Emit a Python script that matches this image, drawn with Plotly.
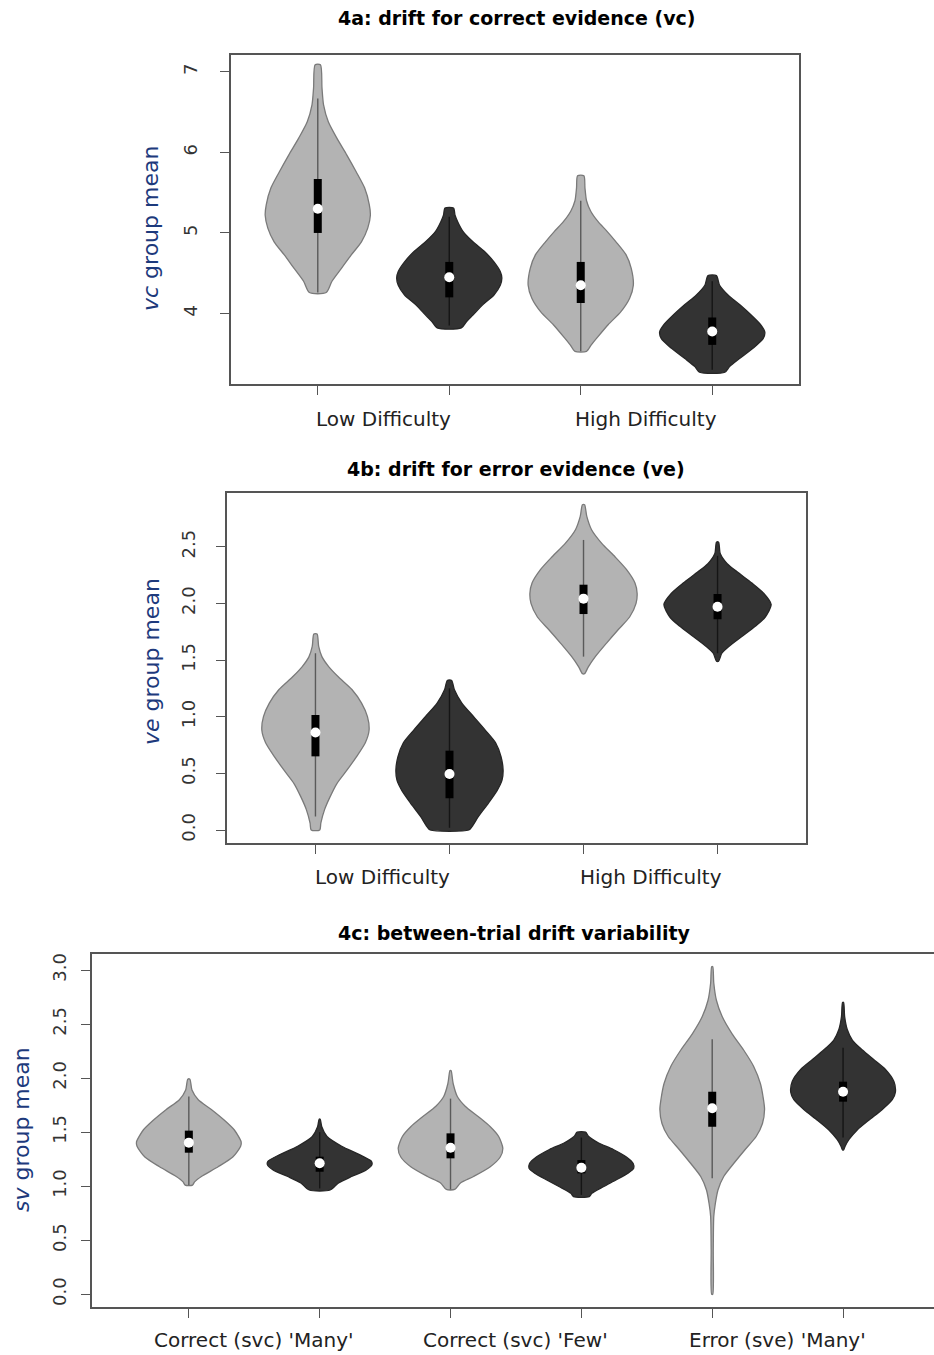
import plotly.graph_objects as go

W, H = 934, 1355

# ---------------- data ----------------
A_TITLE = "4a: drift for correct evidence (vc)"
B_TITLE = "4b: drift for error evidence (ve)"
C_TITLE = "4c: between-trial drift variability"
A_YLABEL = "<i>vc</i> group mean"
B_YLABEL = "<i>ve</i> group mean"
C_YLABEL = "<i>sv</i> group mean"
A_CATEGORIES = ["Low Difficulty", "High Difficulty"]
B_CATEGORIES = ["Low Difficulty", "High Difficulty"]
C_CATEGORIES = ["Correct (svc) 'Many'", "Correct (svc) 'Few'", "Error (sve) 'Many'"]

A_YTICKS = [4, 5, 6, 7]
A_YTICKTEXT = ["4", "5", "6", "7"]
B_YTICKS = [0.0, 0.5, 1.0, 1.5, 2.0, 2.5]
B_YTICKTEXT = ["0.0", "0.5", "1.0", "1.5", "2.0", "2.5"]
C_YTICKS = [0.0, 0.5, 1.0, 1.5, 2.0, 2.5, 3.0]
C_YTICKTEXT = ["0.0", "0.5", "1.0", "1.5", "2.0", "2.5", "3.0"]

# density profiles: value levels (top -> bottom) and relative half-widths
A_LEVELS = [
    [7.09, 6.80, 6.59, 6.38, 6.18, 5.97, 5.76, 5.56, 5.35, 5.22, 5.06, 4.89, 4.73, 4.56, 4.40, 4.26],
    [5.31, 5.22, 5.14, 5.02, 4.89, 4.77, 4.64, 4.52, 4.44, 4.35, 4.23, 4.11, 3.98, 3.90, 3.82],
    [5.71, 5.56, 5.40, 5.27, 5.14, 5.02, 4.89, 4.73, 4.56, 4.35, 4.19, 4.02, 3.86, 3.69, 3.61, 3.53],
    [4.47, 4.35, 4.23, 4.11, 3.98, 3.86, 3.77, 3.69, 3.57, 3.44, 3.34, 3.27],
]
A_WIDTHS = [
    [0.05, 0.08, 0.11, 0.20, 0.36, 0.55, 0.73, 0.89, 0.98, 1.00, 0.95, 0.83, 0.64, 0.45, 0.27, 0.16],
    [0.08, 0.11, 0.16, 0.26, 0.45, 0.67, 0.85, 0.97, 1.00, 0.97, 0.85, 0.64, 0.45, 0.33, 0.23],
    [0.06, 0.08, 0.11, 0.19, 0.33, 0.50, 0.67, 0.86, 0.96, 1.00, 0.93, 0.76, 0.52, 0.30, 0.20, 0.11],
    [0.08, 0.14, 0.30, 0.52, 0.74, 0.92, 1.00, 0.97, 0.78, 0.52, 0.33, 0.24],
]
A_Q1 = [5.00, 4.20, 4.13, 3.61]
A_MEDIAN = [5.30, 4.45, 4.35, 3.775]
A_Q3 = [5.67, 4.64, 4.64, 3.95]
A_WLO = [4.26, 3.85, 3.53, 3.30]
A_WHI = [6.67, 5.20, 5.40, 4.40]

B_LEVELS = [
    [1.73, 1.62, 1.53, 1.44, 1.35, 1.24, 1.12, 1.00, 0.88, 0.77, 0.65, 0.53, 0.41, 0.29, 0.18, 0.06, 0.0],
    [1.32, 1.24, 1.12, 1.00, 0.88, 0.77, 0.65, 0.53, 0.44, 0.35, 0.24, 0.12, 0.03, 0.0],
    [2.87, 2.77, 2.65, 2.53, 2.41, 2.30, 2.18, 2.09, 2.00, 1.88, 1.77, 1.65, 1.53, 1.44, 1.38],
    [2.54, 2.44, 2.35, 2.27, 2.18, 2.09, 1.99, 1.88, 1.80, 1.71, 1.62, 1.56, 1.49],
]
B_WIDTHS = [
    [0.03, 0.06, 0.12, 0.25, 0.43, 0.68, 0.86, 0.97, 1.00, 0.93, 0.77, 0.59, 0.40, 0.27, 0.17, 0.10, 0.08],
    [0.04, 0.09, 0.23, 0.45, 0.67, 0.86, 0.96, 1.00, 0.98, 0.89, 0.73, 0.54, 0.42, 0.36],
    [0.02, 0.06, 0.15, 0.34, 0.59, 0.80, 0.96, 1.00, 0.98, 0.86, 0.65, 0.43, 0.22, 0.09, 0.02],
    [0.02, 0.05, 0.18, 0.39, 0.64, 0.86, 1.00, 0.89, 0.71, 0.46, 0.21, 0.08, 0.02],
]
B_Q1 = [0.65, 0.28, 1.906, 1.86]
B_MEDIAN = [0.86, 0.494, 2.042, 1.971]
B_Q3 = [1.015, 0.70, 2.165, 2.083]
B_WLO = [0.12, 0.02, 1.53, 1.56]
B_WHI = [1.56, 1.25, 2.56, 2.42]

C_LEVELS = [
    [1.99, 1.89, 1.80, 1.71, 1.61, 1.52, 1.41, 1.37, 1.27, 1.18, 1.09, 1.04, 1.01],
    [1.62, 1.55, 1.46, 1.37, 1.29, 1.23, 1.20, 1.15, 1.09, 1.03, 0.965],
    [2.07, 1.95, 1.83, 1.74, 1.64, 1.55, 1.46, 1.35, 1.27, 1.18, 1.09, 1.03, 0.97],
    [1.50, 1.46, 1.40, 1.34, 1.27, 1.21, 1.165, 1.12, 1.06, 0.995, 0.934, 0.903],
    [3.03, 2.88, 2.72, 2.57, 2.41, 2.26, 2.11, 1.95, 1.80, 1.71, 1.58, 1.46, 1.34, 1.21, 1.09, 0.965, 0.84, 0.72, 0.41, 0.0],
    [2.70, 2.57, 2.45, 2.35, 2.26, 2.17, 2.08, 1.97, 1.87, 1.80, 1.71, 1.61, 1.52, 1.43, 1.37, 1.335],
]
C_WIDTHS = [
    [0.02, 0.06, 0.18, 0.43, 0.68, 0.87, 1.00, 0.99, 0.84, 0.56, 0.24, 0.11, 0.07],
    [0.01, 0.04, 0.14, 0.42, 0.77, 0.99, 1.00, 0.89, 0.61, 0.36, 0.20],
    [0.01, 0.05, 0.13, 0.28, 0.54, 0.76, 0.92, 1.00, 0.95, 0.76, 0.44, 0.19, 0.08],
    [0.08, 0.14, 0.33, 0.61, 0.86, 0.99, 1.00, 0.89, 0.67, 0.42, 0.20, 0.15],
    [0.01, 0.03, 0.08, 0.19, 0.38, 0.60, 0.79, 0.92, 0.98, 1.00, 0.96, 0.84, 0.63, 0.41, 0.22, 0.11, 0.06, 0.03, 0.02, 0.01],
    [0.01, 0.03, 0.08, 0.18, 0.37, 0.59, 0.81, 0.97, 1.00, 0.94, 0.75, 0.49, 0.27, 0.11, 0.04, 0.01],
]
C_Q1 = [1.31, 1.134, 1.258, 1.119, 1.55, 1.782]
C_MEDIAN = [1.403, 1.212, 1.356, 1.171, 1.721, 1.874]
C_Q3 = [1.514, 1.273, 1.489, 1.242, 1.874, 1.967]
C_WLO = [1.01, 0.98, 0.97, 0.92, 1.073, 1.45]
C_WHI = [1.83, 1.50, 1.81, 1.45, 2.359, 2.28]

# ---------------- styling ----------------
LIGHT_FILL, LIGHT_LINE = "#b3b3b3", "#7a7a7a"
DARK_FILL, DARK_LINE = "#333333", "#262626"
HALF_MAX = 0.40
FONT = "DejaVu Sans"
AXIS_COL = "#555555"
LABEL_COL = "#1d3a7c"

fig = go.Figure()


def add_panel(ax, levels, widths, q1, med, q3, wlo, whi):
    xa = "x" if ax == 1 else f"x{ax}"
    ya = "y" if ax == 1 else f"y{ax}"
    for i, (lv, wd) in enumerate(zip(levels, widths)):
        c = i + 1
        light = (i % 2 == 0)
        xs = [c - w * HALF_MAX for w in wd] + [c + w * HALF_MAX for w in wd[::-1]]
        ys = list(lv) + list(lv[::-1])
        xs.append(xs[0])
        ys.append(ys[0])
        fig.add_trace(go.Scatter(
            x=xs, y=ys, xaxis=xa, yaxis=ya, mode="lines", fill="toself",
            fillcolor=LIGHT_FILL if light else DARK_FILL,
            line=dict(color=LIGHT_LINE if light else DARK_LINE, width=1.3,
                      shape="spline", smoothing=0.7),
            hoverinfo="skip"))
        fig.add_trace(go.Scatter(
            x=[c, c], y=[wlo[i], whi[i]], xaxis=xa, yaxis=ya, mode="lines",
            line=dict(color="#5a5a5a" if light else "#151515", width=1.4),
            hoverinfo="skip"))
        fig.add_trace(go.Scatter(
            x=[c, c], y=[q1[i], q3[i]], xaxis=xa, yaxis=ya, mode="lines",
            line=dict(color="black", width=8), hoverinfo="skip"))
        fig.add_trace(go.Scatter(
            x=[c], y=[med[i]], xaxis=xa, yaxis=ya, mode="markers",
            marker=dict(color="white", size=10, line=dict(width=0)),
            hoverinfo="skip"))


add_panel(1, A_LEVELS, A_WIDTHS, A_Q1, A_MEDIAN, A_Q3, A_WLO, A_WHI)
add_panel(2, B_LEVELS, B_WIDTHS, B_Q1, B_MEDIAN, B_Q3, B_WLO, B_WHI)
add_panel(3, C_LEVELS, C_WIDTHS, C_Q1, C_MEDIAN, C_Q3, C_WLO, C_WHI)


def px_x(p):
    return p / W


def px_y(p):
    return 1 - p / H


xcommon = dict(showgrid=False, zeroline=False, showline=True, linecolor=AXIS_COL,
               linewidth=1.6, mirror=True, ticks="outside", ticklen=9,
               tickcolor=AXIS_COL, tickwidth=1.3, showticklabels=False)
ycommon = dict(showgrid=False, zeroline=False, showline=True, linecolor=AXIS_COL,
               linewidth=1.6, mirror=True, ticks="outside", ticklen=9,
               tickcolor=AXIS_COL, tickwidth=1.3, tickangle=-90,
               tickfont=dict(family=FONT, size=18, color="#333333"))

layout_axes = dict(
    xaxis=dict(xcommon, domain=[px_x(231), px_x(799)], range=[0.34, 4.66],
               tickvals=[1, 2, 3, 4], anchor="y"),
    yaxis=dict(ycommon, domain=[px_y(384), px_y(55)], range=[3.124, 7.21],
               tickvals=A_YTICKS, ticktext=A_YTICKTEXT, anchor="x",
               ticklabelstandoff=16),
    xaxis2=dict(xcommon, domain=[px_x(227), px_x(806)], range=[0.34, 4.66],
                tickvals=[1, 2, 3, 4], anchor="y2"),
    yaxis2=dict(ycommon, domain=[px_y(842.7), px_y(492.7)], range=[-0.112, 2.977],
                tickvals=B_YTICKS, ticktext=B_YTICKTEXT, anchor="x2",
                ticklabelstandoff=14),
    xaxis3=dict(xcommon, domain=[px_x(92), 1.0], range=[0.26, 6.695],
                tickvals=[1, 2, 3, 4, 5, 6], anchor="y3"),
    yaxis3=dict(ycommon, domain=[px_y(1307.3), px_y(954)], range=[-0.12, 3.148],
                tickvals=C_YTICKS, ticktext=C_YTICKTEXT, anchor="x3", mirror=False,
                ticklabelstandoff=8),
)

annotations = []
# titles
for txt, xc, yc in [(A_TITLE, 516, 18), (B_TITLE, 516, 469), (C_TITLE, 514, 933)]:
    annotations.append(dict(text=f"<b>{txt}</b>", x=px_x(xc), y=px_y(yc), xref="paper",
                            yref="paper", showarrow=False, xanchor="center",
                            yanchor="middle",
                            font=dict(family=FONT, size=19, color="black")))
# category labels
for cats, xa, yc in [(A_CATEGORIES, "x", 419), (B_CATEGORIES, "x2", 877),
                     (C_CATEGORIES, "x3", 1340)]:
    for k, cat in enumerate(cats):
        annotations.append(dict(text=cat, x=1.5 + 2 * k, xref=xa, y=px_y(yc),
                                yref="paper", showarrow=False, xanchor="center",
                                yanchor="middle",
                                font=dict(family=FONT, size=20, color="#222222")))
# y axis titles
for txt, xc, yc in [(A_YLABEL, 151, 229), (B_YLABEL, 151, 662), (C_YLABEL, 21, 1130)]:
    annotations.append(dict(text=txt, x=px_x(xc), y=px_y(yc), xref="paper", yref="paper",
                            showarrow=False, textangle=-90, xanchor="center",
                            yanchor="middle",
                            font=dict(family=FONT, size=22, color=LABEL_COL)))

fig.update_layout(
    width=W, height=H, margin=dict(l=0, r=0, t=0, b=0),
    paper_bgcolor="white", plot_bgcolor="white", showlegend=False,
    annotations=annotations, **layout_axes)

fig.write_html("out.html",
               config={"displayModeBar": False},
               post_script="document.body.style.margin='0';"
                           "document.body.style.overflow='hidden';")
